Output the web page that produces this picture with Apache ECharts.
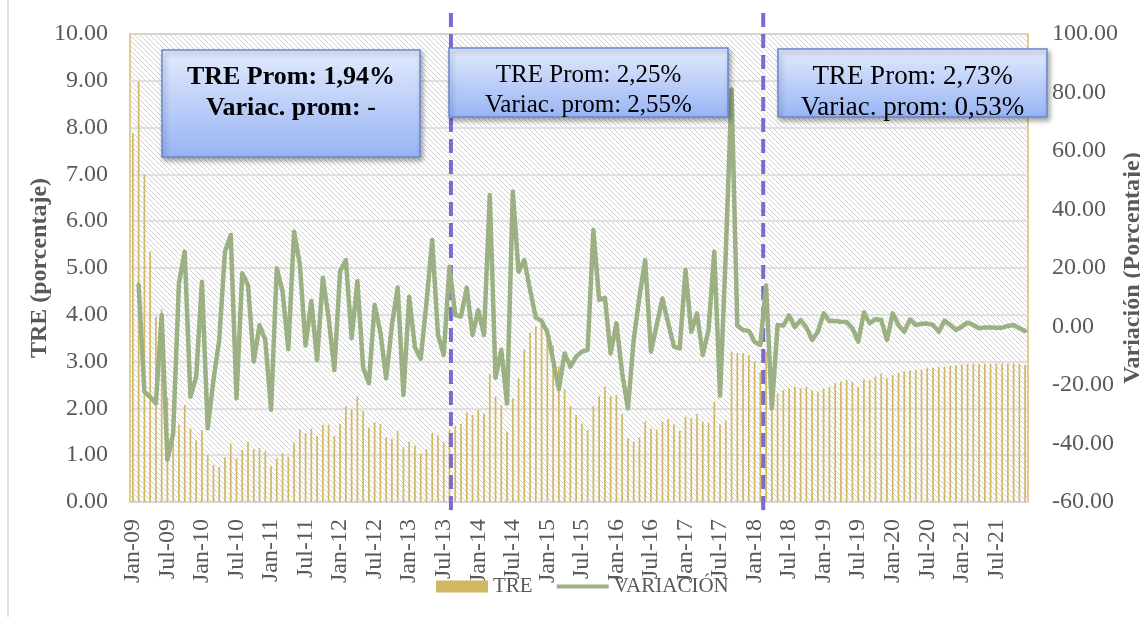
<!DOCTYPE html>
<html>
<head>
<meta charset="utf-8">
<script src="https://cdn.jsdelivr.net/npm/echarts@6/dist/echarts.min.js"></script>
<style>
  html, body { margin: 0; padding: 0; background: #ffffff; }
  #chart { width: 1140px; height: 617px; }
</style>
</head>
<body>
<div id="chart"></div>
<script>
// ---------- DATA ----------
const MONTHS = ['Jan','Feb','Mar','Apr','May','Jun','Jul','Aug','Sep','Oct','Nov','Dec'];
const YEARS = ['09','10','11','12','13','14','15','16','17','18','19','20','21'];

// TRE (porcentaje), monthly Jan-09 .. Dec-21
const TRE = [
  7.88, 8.98, 7.00, 5.35, 3.96, 4.12, 2.22, 1.45, 1.65, 2.07, 1.57, 1.32,
  1.54, 1.00, 0.79, 0.75, 0.95, 1.25, 0.93, 1.11, 1.29, 1.13, 1.15, 1.08,
  0.77, 0.93, 1.04, 0.97, 1.27, 1.55, 1.47, 1.57, 1.41, 1.65, 1.65, 1.41,
  1.67, 2.04, 1.97, 2.26, 1.95, 1.59, 1.70, 1.67, 1.38, 1.35, 1.52, 1.17,
  1.29, 1.20, 1.04, 1.13, 1.47, 1.42, 1.28, 1.55, 1.62, 1.67, 1.91, 1.86,
  1.97, 1.89, 2.74, 2.25, 2.07, 1.50, 2.21, 2.64, 3.26, 3.62, 3.75, 3.78,
  3.70, 3.35, 2.90, 2.41, 2.05, 1.86, 1.68, 1.54, 2.05, 2.26, 2.46, 2.26,
  2.29, 1.88, 1.36, 1.29, 1.38, 1.72, 1.57, 1.55, 1.72, 1.77, 1.66, 1.52,
  1.82, 1.79, 1.88, 1.72, 1.70, 2.14, 1.65, 1.75, 3.21, 3.18, 3.18, 3.14,
  3.00, 2.78, 3.21, 2.33, 2.32, 2.39, 2.43, 2.46, 2.43, 2.46, 2.39, 2.36,
  2.43, 2.46, 2.54, 2.57, 2.61, 2.57, 2.46, 2.61, 2.61, 2.68, 2.75, 2.64,
  2.71, 2.76, 2.79, 2.81, 2.82, 2.83, 2.86, 2.87, 2.88, 2.89, 2.91, 2.93,
  2.94, 2.95, 2.96, 2.95, 2.96, 2.95, 2.96, 2.96, 2.96, 2.96, 2.95, 2.93
];

// VARIACIÓN (Porcentaje), monthly Jan-09 .. Dec-21
const VARIACION = [
  null, 14.2, -22.3, -24.0, -26.3, 3.9, -45.6, -36.5, 14.8, 25.6, -24.0, -17.2,
  15.3, -34.8, -18.3, -4.6, 25.6, 31.3, -24.5, 18.2, 14.2, -12.0, 0.5, -4.6,
  -28.5, 19.9, 12.0, -7.8, 32.4, 21.3, -6.5, 8.7, -11.5, 16.7, 3.0, -14.9,
  18.9, 22.7, -4.0, 15.5, -14.0, -19.4, 7.4, -2.0, -17.7, 0.5, 13.3, -23.4,
  10.2, -7.2, -11.0, 8.0, 29.6, -2.9, -9.7, 20.4, 3.9, 3.4, 13.3, -2.9,
  5.6, -2.9, 45.0, -17.5, -8.0, -26.3, 46.1, 18.7, 22.7, 12.5, 3.1, 1.9,
  -2.0, -11.5, -21.4, -9.2, -13.7, -10.3, -8.6, -8.0, 33.0, 9.1, 9.8, -9.2,
  1.1, -16.0, -28.0, -4.6, 10.2, 22.7, -8.6, 0.5, 9.6, 1.1, -6.9, -7.5,
  19.3, -1.8, 4.5, -9.7, -1.2, 25.6, -23.7, 25.0, 81.0, 0.3, -1.2, -1.5,
  -5.2, -6.3, 14.0, -28.0, 0.5, 0.3, 3.8, -0.2, 2.2, -0.3, -4.6, -1.8,
  4.5, 1.9, 1.9, 1.6, 1.5, -0.6, -5.2, 4.8, 1.1, 2.5, 2.2, -4.6,
  4.5, 0.5, -1.8, 2.4, 0.5, 0.9, 1.0, 0.5, -1.8, 2.0, 0.5, -1.2,
  0.0, 1.3, 0.5, -0.6, -0.3, -0.3, -0.4, -0.4, 0.2, 0.5, -0.6, -1.5
];

// period breaks (in months from Jan-09) marked by dashed lines
const PERIOD_BREAKS = [55.75, 110];

// annotation texts
const BOX_TEXTS = [
  ['TRE Prom: 1,94%', 'Variac. prom: -'],
  ['TRE Prom: 2,25%', 'Variac. prom: 2,55%'],
  ['TRE Prom: 2,73%', 'Variac. prom: 0,53%']
];

const LEFT_TICKS = { min: 0, max: 10, interval: 1 };
const RIGHT_TICKS = { min: -60, max: 100, interval: 20 };

// ---------- BUILD ----------
const CATEGORIES = [];
YEARS.forEach(y => MONTHS.forEach(m => CATEGORIES.push(m + '-' + y)));

const FONT = '"Liberation Serif", "DejaVu Serif", serif';
const GREY = '#595959';
const GREEN = '#9bb083';
const GOLD = '#d2b862';
const PURPLE = '#7b6ad0';

// hatch pattern
const pc = document.createElement('canvas');
const S = 5;
pc.width = S; pc.height = S;
const pctx = pc.getContext('2d');
pctx.fillStyle = '#ffffff';
pctx.fillRect(0, 0, S, S);
pctx.strokeStyle = '#d2d2d2';
pctx.lineWidth = 1;
[-S, 0, S].forEach(k => {
  pctx.beginPath();
  pctx.moveTo(k, 0);
  pctx.lineTo(k + S, S);
  pctx.stroke();
});
const HATCH = { image: pc, repeat: 'repeat' };

const chart = echarts.init(document.getElementById('chart'), null, { renderer: 'canvas' });

function boxElements(x, y, w, h, lines, fontSize, bold, l1y, l2y) {
  const font = (bold ? 'bold ' : '') + fontSize + 'px ' + FONT;
  return [
    {
      type: 'rect',
      z: 100,
      shape: { x: x, y: y, width: w, height: h },
      style: {
        fill: {
          type: 'linear', x: 0, y: 0, x2: 0, y2: 1,
          colorStops: [
            { offset: 0, color: '#e3ebfd' },
            { offset: 1, color: '#98b4f4' }
          ]
        },
        stroke: '#6788d6',
        lineWidth: 1.5,
        shadowBlur: 5,
        shadowOffsetX: 2,
        shadowOffsetY: 3,
        shadowColor: 'rgba(0,0,0,0.35)'
      }
    },
    {
      type: 'text', z: 101,
      x: x + w / 2, y: l1y,
      style: { text: lines[0], fill: '#000', align: 'center', verticalAlign: 'middle', font: font }
    },
    {
      type: 'text', z: 101,
      x: x + w / 2, y: l2y,
      style: { text: lines[1], fill: '#000', align: 'center', verticalAlign: 'middle', font: font }
    }
  ];
}

const option = {
  backgroundColor: '#ffffff',
  animation: false,
  textStyle: { fontFamily: FONT },
  grid: {
    left: 130, right: 112, top: 34, bottom: 115,
    outerBoundsMode: 'none',
    containLabel: false,
    show: true,
    backgroundColor: HATCH,
    borderColor: '#d6bf72',
    borderWidth: 1.5
  },
  legend: {
    left: 431, top: 571,
    itemWidth: 52, itemHeight: 12, itemGap: 24,
    textStyle: { fontFamily: FONT, fontSize: 21, color: GREY },
    data: [
      { name: 'TRE', icon: 'rect' },
      { name: 'VARIACIÓN', icon: 'path://M0,0 L13,0 L13,1 L0,1 Z', itemStyle: { color: GREEN } }
    ]
  },
  xAxis: [
    {
      type: 'category',
      data: CATEGORIES,
      boundaryGap: true,
      axisLine: { lineStyle: { color: '#d9d9d9', width: 1.5 } },
      axisTick: { interval: 5, length: 6, lineStyle: { color: '#d9d9d9', width: 1.5 } },
      axisLabel: {
        interval: 5, rotate: 90, margin: 17,
        fontFamily: FONT, fontSize: 24, color: GREY
      },
      splitLine: { show: false }
    },
    {
      type: 'value',
      min: 0, max: CATEGORIES.length,
      show: false
    }
  ],
  yAxis: [
    {
      type: 'value',
      min: LEFT_TICKS.min, max: LEFT_TICKS.max, interval: LEFT_TICKS.interval,
      name: 'TRE (porcentaje)',
      nameLocation: 'middle', nameRotate: 90, nameGap: 78,
      nameMoveOverlap: false,
      nameTextStyle: { fontFamily: FONT, fontSize: 24, fontWeight: 'bold', color: GREY },
      axisLine: { show: false },
      axisTick: { show: false },
      axisLabel: {
        margin: 22, fontFamily: FONT, fontSize: 24, color: GREY,
        formatter: v => v.toFixed(2)
      },
      splitLine: { lineStyle: { color: '#d9d9d9', width: 1.5 } }
    },
    {
      type: 'value',
      position: 'right',
      min: RIGHT_TICKS.min, max: RIGHT_TICKS.max, interval: RIGHT_TICKS.interval,
      name: 'Variación (Porcentaje)',
      nameLocation: 'middle', nameRotate: 90, nameGap: 93,
      nameMoveOverlap: false,
      nameTextStyle: { fontFamily: FONT, fontSize: 24, fontWeight: 'bold', color: GREY },
      axisLine: { show: false },
      axisTick: { show: false },
      axisLabel: {
        margin: 24, fontFamily: FONT, fontSize: 24, color: GREY,
        formatter: v => v.toFixed(2)
      },
      splitLine: { show: false }
    }
  ],
  series: [
    {
      name: 'TRE',
      type: 'bar',
      xAxisIndex: 0, yAxisIndex: 0,
      data: TRE,
      barWidth: 1.7,
      itemStyle: { color: GOLD },
      z: 2
    },
    {
      name: 'periods',
      type: 'line',
      xAxisIndex: 1, yAxisIndex: 0,
      data: [],
      silent: true
    },
    {
      name: 'VARIACIÓN',
      type: 'line',
      xAxisIndex: 0, yAxisIndex: 1,
      data: VARIACION,
      symbol: 'none',
      showSymbol: false,
      lineStyle: { color: GREEN, width: 4.5, join: 'round', cap: 'round' },
      itemStyle: { color: GREEN },
      z: 5
    }
  ]
};

chart.setOption(option);

// dashed period separators, positioned through the chart's own scales
const yTop = chart.convertToPixel({ yAxisIndex: 0 }, 10.45);
const yBot = chart.convertToPixel({ yAxisIndex: 0 }, -0.18);
const breakLines = PERIOD_BREAKS.map(v => {
  const x = chart.convertToPixel({ xAxisIndex: 1 }, v);
  return {
    type: 'line', z: 4, silent: true,
    shape: { x1: x, y1: yTop, x2: x, y2: yBot },
    style: { stroke: PURPLE, lineWidth: 4, lineDash: [14, 7] }
  };
});

chart.setOption({
  graphic: [
    {
      type: 'line', z: 0,
      shape: { x1: 8, y1: 0, x2: 8, y2: 617 },
      style: { stroke: '#d8d3e3', lineWidth: 1.5 }
    }
  ].concat(
    breakLines,
    boxElements(162, 50, 258, 107, BOX_TEXTS[0], 26, true, 77, 108),
    boxElements(449, 48, 279, 69, BOX_TEXTS[1], 25, false, 75, 105),
    boxElements(778, 49, 269, 68, BOX_TEXTS[2], 27, false, 77, 108)
  )
});
</script>
</body>
</html>
